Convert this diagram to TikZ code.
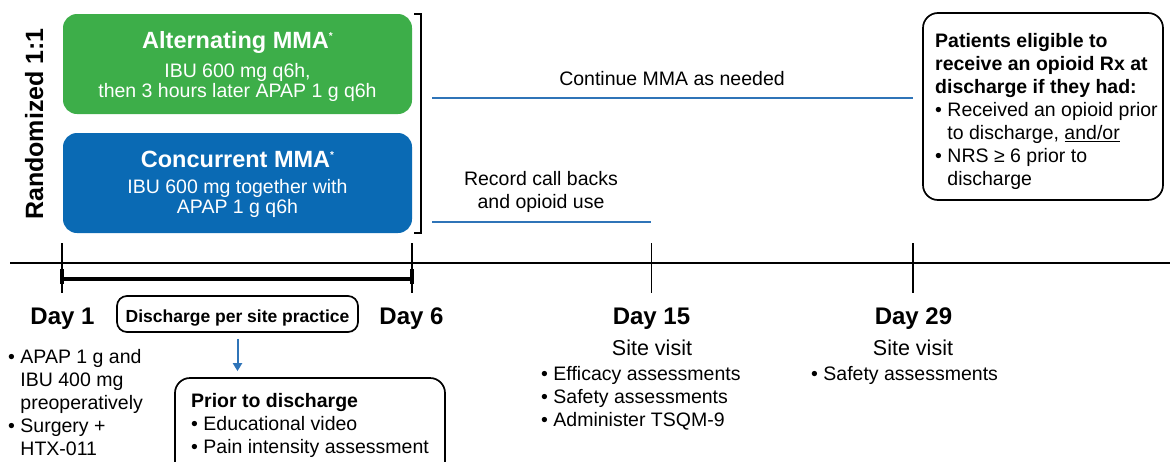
\documentclass[tikz,border=0pt]{standalone}
\usepackage{fontspec}
\setmainfont{Liberation Sans}
\usetikzlibrary{arrows.meta}
\definecolor{mmagreen}{HTML}{3DAE49}
\definecolor{mmablue}{HTML}{0A6AB4}
\definecolor{lineblue}{HTML}{2F74B8}
\newcommand{\fstrut}{\rule{0pt}{15pt}}
\newcommand{\mmastar}{\raisebox{9pt}{\fontsize{10}{10}\selectfont *}}
\newcommand{\bhang}{\hphantom{•~}}
\begin{document}
\begin{tikzpicture}[x=1pt,y=-1pt,
  armbox/.style={draw=none, rounded corners=14pt, minimum width=349pt, minimum height=100pt, inner sep=0pt},
  armtitle/.style={font=\fontsize{23.5}{26}\selectfont\bfseries, text=white, inner sep=0pt, anchor=base},
  armtxt/.style={font=\fontsize{19.5}{20.5}\selectfont, text=white, inner sep=0pt, anchor=north, align=center},
  ltxt/.style={font=\fontsize{19.5}{23}\selectfont, inner sep=0pt, anchor=north west, align=left},
  cmtxt/.style={font=\fontsize{19.5}{23}\selectfont, inner sep=0pt, anchor=north, align=center},
  ctxt/.style={font=\fontsize{19.5}{23}\selectfont, inner sep=0pt, anchor=base},
  sitetxt/.style={font=\fontsize{21.5}{24}\selectfont, inner sep=0pt, anchor=base},
  daylbl/.style={font=\fontsize{24}{28}\selectfont\bfseries, inner sep=0pt, anchor=base},
  outline/.style={draw=black, line width=1.7pt, rounded corners=15pt, inner sep=0pt},
  bluerule/.style={draw=lineblue, line width=2.2pt},
  axisline/.style={draw=black, line width=1.5pt},
]
\useasboundingbox (0,0) rectangle (1170,461);
\clip (0,0) rectangle (1170,461);

% randomization label
\node[rotate=90, anchor=base, inner sep=0pt, font=\fontsize{25}{28}\selectfont\bfseries] (rand) at (43,124) {Randomized 1:1};

% arm boxes
\node[armbox, fill=mmagreen] (alt) at (237.5,64) {};
\node[armtitle] (alttitle) at (237.5,48) {Alternating MMA\mmastar};
\node[armtxt] (alttxt) at (237.5,62) {\fstrut IBU 600 mg q6h,\\then 3 hours later APAP 1 g q6h};

\node[armbox, fill=mmablue] (con) at (237.5,183) {};
\node[armtitle] (contitle) at (237.5,167) {Concurrent MMA\mmastar};
\node[armtxt] (contxt) at (237.5,178) {\fstrut IBU 600 mg together with\\APAP 1 g q6h};

% bracket
\draw[line width=1.6pt] (414,14) -- (421,14) -- (421,233) -- (414,233);

% continuation lines
\coordinate (c1a) at (432,98);
\coordinate (c1b) at (913,98);
\coordinate (c2a) at (432,222);
\coordinate (c2b) at (651,222);
\draw[bluerule] (c1a) -- (c1b);
\draw[bluerule] (c2a) -- (c2b);
\node[ctxt] (cont) at (672,85) {Continue MMA as needed};
\node[cmtxt] (rec) at (541,170) {\fstrut Record call backs\\and opioid use};

% eligibility box
\node[outline, minimum width=240pt, minimum height=187pt] (elig) at (1043,106.5) {};
\node[ltxt, font=\fontsize{19.5}{23}\selectfont\bfseries] (eligtitle) at (935,32) {\fstrut Patients eligible to\\receive an opioid Rx at\\discharge if they had:};
\node[ltxt] (eliglist) at (935,101) {\fstrut •~Received an opioid prior\\\bhang to discharge, \underline{and/or}\\•~NRS ≥ 6 prior to\\\bhang discharge};

% timeline
\coordinate (t0) at (10,263);
\coordinate (t1) at (1170,263);
\draw[axisline] (t0) -- (t1);
\foreach \x/\n in {62/d1, 412/d6, 651.5/d15, 913/d29} {
  \coordinate (\n top) at (\x,243);
  \coordinate (\n bot) at (\x,293);
  \draw[axisline] (\n top) -- (\n bot);
}
\coordinate (b1) at (62,279);
\coordinate (b2) at (412,279);
\draw[line width=3.5pt] (b1) -- (b2);
\draw[line width=3.5pt] (62,269) -- (62,284);
\draw[line width=3.5pt] (412,269) -- (412,284);

% day labels
\node[daylbl] (day1) at (62.5,324) {Day 1};
\node[daylbl] (day6) at (411.5,324) {Day 6};
\node[daylbl] (day15) at (651.5,324) {Day 15};
\node[daylbl] (day29) at (913.5,324) {Day 29};

% day 1 details
\node[ltxt] (day1list) at (8,348) {\fstrut •~APAP 1 g and\\\bhang IBU 400 mg\\\bhang preoperatively\\•~Surgery +\\\bhang HTX-011};

% discharge
\node[outline, rounded corners=10pt, minimum width=241pt, minimum height=36pt] (dis) at (237.5,314) {};
\node[inner sep=0pt, anchor=base, font=\fontsize{17.5}{20}\selectfont\bfseries] (distxt) at (237.5,322) {Discharge per site practice};

\node[outline, minimum width=270pt, minimum height=110pt] (prior) at (310,433) {};
\draw[lineblue, line width=2pt, -{Triangle[width=9pt,length=8pt]}] ([yshift=-6pt]dis.south) -- ([yshift=6pt]dis.south |- prior.north);
\node[ltxt] (priortxt) at (191,392) {\fstrut\textbf{Prior to discharge}\\•~Educational video\\•~Pain intensity assessment};

% day 15
\node[sitetxt] (sv15) at (652,355) {Site visit};
\node[ltxt] (list15) at (541,365) {\fstrut •~Efficacy assessments\\•~Safety assessments\\•~Administer TSQM-9};

% day 29
\node[sitetxt] (sv29) at (913,355) {Site visit};
\node[ltxt] (list29) at (811,365) {\fstrut •~Safety assessments};
\end{tikzpicture}
\end{document}
